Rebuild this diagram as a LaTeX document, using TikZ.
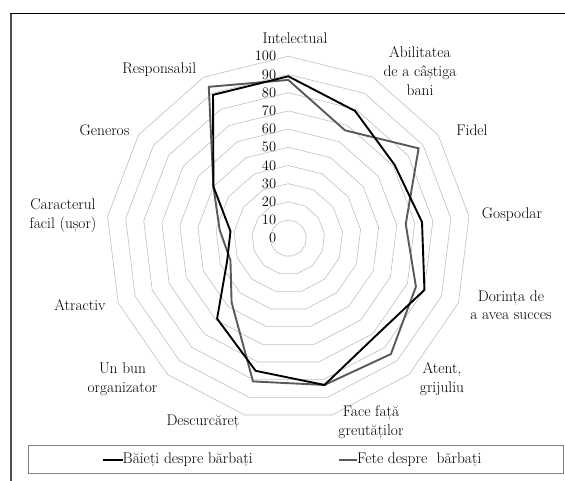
\documentclass[tikz,border=0pt]{standalone}
\usetikzlibrary{positioning}
\tikzset{
    ring/.style={draw=black!25, line width=0.6bp},
    baieti/.style={draw=black, line width=1.9bp, line join=miter},
    fete/.style={draw=black!65, line width=1.9bp, line join=miter},
    trait/.style={font=\fontsize{15.5}{19}\selectfont, align=center, inner sep=0pt},
    scalelbl/.style={font=\fontsize{14.5}{15}\selectfont, anchor=east, inner sep=0pt},
}
\begin{document}
\begin{tikzpicture}[x=1bp,y=1bp]
    \useasboundingbox (0,0) rectangle (565,481);
    % chenarul
    \draw[line width=1.6bp, black!70] (11,0) -- (11,467.7);
    \draw[line width=1.4bp, black] (10.2,467.7) -- (565,467.7);
    %
    \begin{scope}[shift={(288.3,242.7)}]
        % cercurile (13 laturi)
        \foreach \r in {10,20,...,100}
            \draw[ring] (90:{\r*1.82}) \foreach \k in {1,...,12} { -- ({90-\k*360/13}:{\r*1.82}) } -- cycle;
        \foreach \r in {0,10,...,100}
            \node[scalelbl] (s\r) at (-12,{\r*1.82}) {\r};
        % valorile
        \foreach \v [count=\k] in {89,79,71,74,80,72,83,75,59,36,32,50,89}
            \coordinate (b\k) at ({90-(\k-1)*360/13}:{\v*1.82});
        \foreach \v [count=\k] in {87,67,87,65,75,85,83,81,47,34,38,50,94}
            \coordinate (f\k) at ({90-(\k-1)*360/13}:{\v*1.82});
        \draw[fete] (f1) \foreach \k in {2,...,13} { -- (f\k) } -- cycle;
        \draw[baieti] (b1) \foreach \k in {2,...,13} { -- (b\k) } -- cycle;
    \end{scope}
    %
    \node[trait] (intel) at (295,442.7) {Intelectual};
    \node[trait] (abil)  at (420,410.3) {Abilitatea\\de a câștiga\\bani};
    \node[trait] (fidel) at (472,350.3) {Fidel};
    \node[trait] (gosp)  at (512,266) {Gospodar};
    \node[trait] (dor)   at (511,175.8) {Dorința de\\a avea succes};
    \node[trait] (atent) at (442,101.5) {Atent,\\grijuliu};
    \node[trait] (face)  at (371,58.8) {Face față\\greutăților};
    \node[trait] (desc)  at (203,59.3) {Descurcăreț};
    \node[trait] (org)   at (122.5,101.5) {Un bun\\organizator};
    \node[trait] (atr)   at (80,176) {Atractiv};
    \node[trait] (car)   at (63,265.5) {Caracterul\\facil (ușor)};
    \node[trait] (gen)   at (104.5,351) {Generos};
    \node[trait] (resp)  at (159.3,411) {Responsabil};
    %
    % legenda
    \draw[black!50, line width=0.8bp] (28,7.7) rectangle (563,35.7);
    \coordinate (lb) at (102.7,21);
    \coordinate (lf) at (338.7,21);
    \node[trait, anchor=west] (tb) at (122.5,21) {Băieți despre bărbați};
    \node[trait, anchor=west] (tf) at (357,21) {Fete despre\ \ bărbați};
    \draw[baieti] (lb) -- (tb.west);
    \draw[fete] (lf) -- (tf.west);
\end{tikzpicture}
\end{document}
